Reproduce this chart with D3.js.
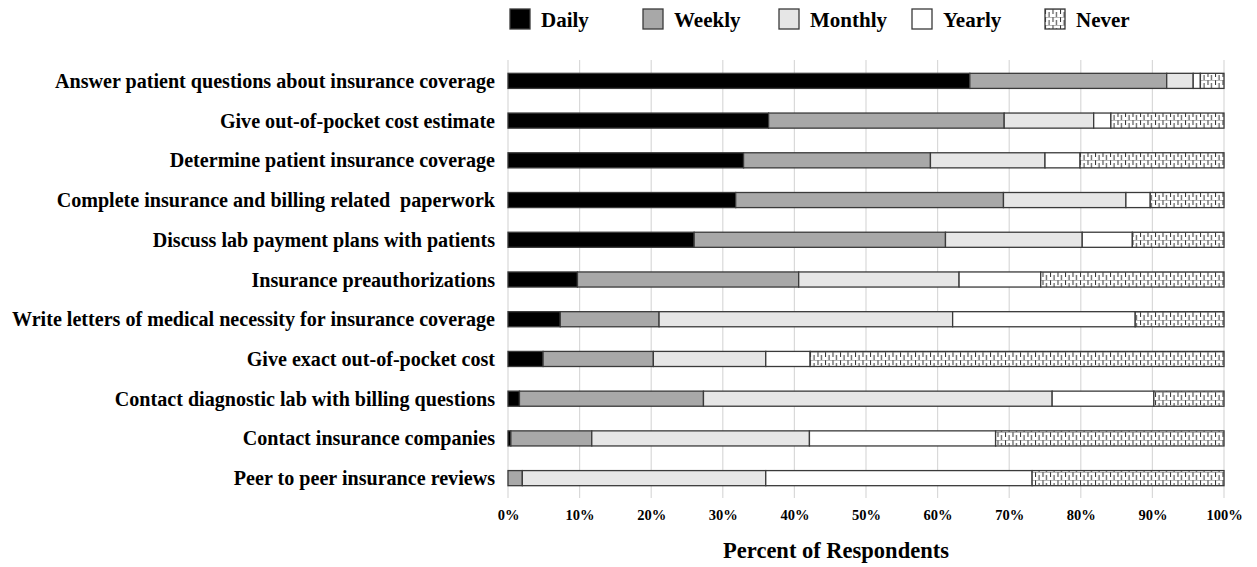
<!DOCTYPE html>
<html>
<head>
<meta charset="utf-8">
<script src="https://cdn.jsdelivr.net/npm/d3@7"></script>
<style>
  body { margin: 0; background: #fff; }
  svg text { font-family: "Liberation Serif", "Times New Roman", serif; font-weight: bold; fill: #000; }
</style>
</head>
<body>
<svg id="chart" width="1257" height="567"></svg>
<script>
// tasks, top to bottom
let tasks = [
  "Answer patient questions about insurance coverage",
  "Give out-of-pocket cost estimate",
  "Determine patient insurance coverage",
  "Complete insurance and billing related  paperwork",
  "Discuss lab payment plans with patients",
  "Insurance preauthorizations",
  "Write letters of medical necessity for insurance coverage",
  "Give exact out-of-pocket cost",
  "Contact diagnostic lab with billing questions",
  "Contact insurance companies",
  "Peer to peer insurance reviews"
];

let frequencies = ["Daily", "Weekly", "Monthly", "Yearly", "Never"];

// percent of respondents per task
let daily   = [64.5, 36.4, 32.9, 31.8, 26.0,  9.7,  7.3,  4.9,  1.6,  0.4,  0.0];
let weekly  = [27.5, 32.9, 26.1, 37.4, 35.1, 30.9, 13.8, 15.4, 25.7, 11.3,  2.0];
let monthly = [ 3.7, 12.5, 16.0, 17.1, 19.1, 22.4, 41.0, 15.7, 48.7, 30.4, 34.0];
let yearly  = [ 1.0,  2.4,  4.9,  3.4,  7.0, 11.4, 25.5,  6.2, 14.2, 26.0, 37.2];
let never   = [ 3.3, 15.8, 20.1, 10.3, 12.8, 25.6, 12.4, 57.8,  9.8, 31.9, 26.8];

let xTicks = [0, 10, 20, 30, 40, 50, 60, 70, 80, 90, 100];

let svg = d3.select("#chart");
let fills = ["#000000", "#a8a8a8", "#e6e6e6", "#ffffff", "url(#neverPattern)"];
let strokeColor = "#3a3a3a";

// pattern for "Never"
let defs = svg.append("defs");
let pat = defs.append("pattern")
  .attr("id", "neverPattern")
  .attr("patternUnits", "userSpaceOnUse")
  .attr("width", 7.5)
  .attr("height", 8);
pat.append("rect").attr("width", 7.5).attr("height", 8).attr("fill", "#fff");
pat.append("line").attr("x1", 0.5).attr("x2", 0.5).attr("y1", 0).attr("y2", 5)
  .attr("stroke", "#333").attr("stroke-width", 1);
pat.append("line").attr("x1", 4).attr("x2", 4).attr("y1", 3).attr("y2", 8)
  .attr("stroke", "#333").attr("stroke-width", 1);
pat.append("line").attr("x1", 0).attr("x2", 7.5).attr("y1", 0.5).attr("y2", 0.5)
  .attr("stroke", "#777").attr("stroke-width", 0.5);

let rows = tasks.map((t, i) => ({
  task: t, Daily: daily[i], Weekly: weekly[i], Monthly: monthly[i], Yearly: yearly[i], Never: never[i]
}));

let stacked = d3.stack().keys(frequencies)(rows);

let x = d3.scaleLinear().domain([0, 100]).range([508, 1224]);
let y = d3.scaleBand().domain(tasks).range([61, 498]).paddingInner(0.62).paddingOuter(0.31);

// gridlines
svg.append("g")
  .selectAll("line")
  .data(xTicks)
  .enter()
  .append("line")
  .attr("x1", d => x(d)).attr("x2", d => x(d))
  .attr("y1", 60).attr("y2", 498)
  .attr("stroke", "#d9d9d9")
  .attr("stroke-width", 1.2);

// bars
svg.append("g")
  .selectAll("g")
  .data(stacked)
  .enter()
  .append("g")
  .attr("fill", (d, i) => fills[i])
  .selectAll("rect")
  .data(d => d)
  .enter()
  .append("rect")
  .filter(d => d[1] - d[0] > 0)
  .attr("x", d => x(d[0]))
  .attr("y", d => y(d.data.task))
  .attr("width", d => x(d[1]) - x(d[0]))
  .attr("height", y.bandwidth())
  .attr("stroke", strokeColor)
  .attr("stroke-width", 1.3);

// category labels
svg.append("g")
  .selectAll("text")
  .data(tasks)
  .enter()
  .append("text")
  .attr("x", 495)
  .attr("y", d => y(d) + y.bandwidth() / 2)
  .attr("dy", "0.35em")
  .attr("text-anchor", "end")
  .style("font-size", "20.1px")
  .style("white-space", "pre")
  .text(d => d);

// x axis
let xAxis = svg.append("g")
  .attr("transform", "translate(0,498)")
  .call(d3.axisBottom(x).tickValues(xTicks).tickFormat(d => d + "%").tickSize(0).tickPadding(12));
xAxis.select(".domain").remove();
xAxis.selectAll("text")
  .style("font-family", "'Liberation Serif', 'Times New Roman', serif")
  .style("font-weight", "bold")
  .style("font-size", "14.5px")
  .attr("fill", "#000");

svg.append("text")
  .attr("x", 836)
  .attr("y", 558)
  .attr("text-anchor", "middle")
  .style("font-size", "22.5px")
  .text("Percent of Respondents");

// legend
let legendX = [510, 643, 779, 912, 1045];
let legend = svg.append("g")
  .selectAll("g")
  .data(frequencies)
  .enter()
  .append("g")
  .attr("transform", (d, i) => "translate(" + legendX[i] + ",9)");
legend.append("rect")
  .attr("width", 20).attr("height", 20)
  .attr("fill", (d, i) => fills[i])
  .attr("stroke", strokeColor)
  .attr("stroke-width", 1.3);
legend.append("text")
  .attr("x", 31)
  .attr("y", 18)
  .style("font-size", "21px")
  .text(d => d);
</script>
</body>
</html>
